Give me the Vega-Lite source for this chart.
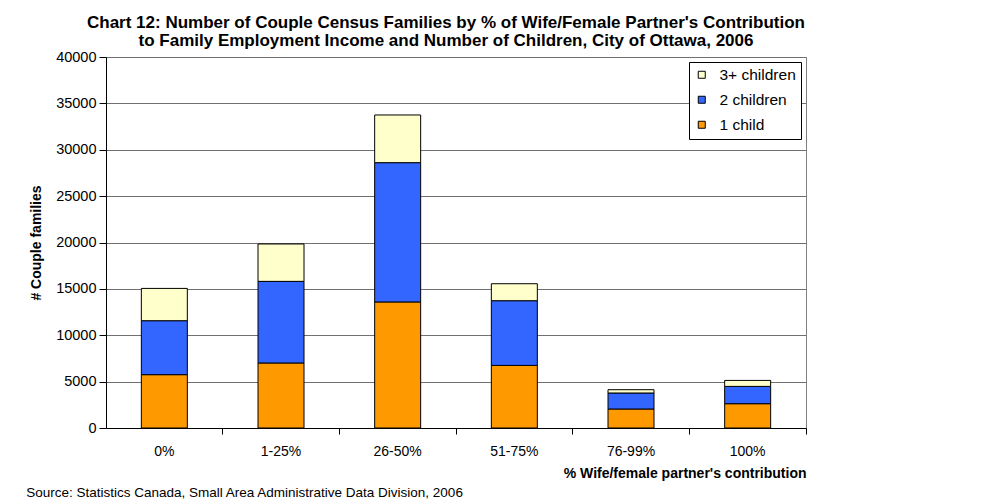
{
  "$schema": "https://vega.github.io/schema/vega-lite/v6.json",
  "autosize": "pad",
  "padding": {"left": 26, "top": 13, "right": 185, "bottom": 3},
  "background": "white",
  "bounds": "flush",
  "title": {
    "text": "Source: Statistics Canada, Small Area Administrative Data Division, 2006",
    "orient": "bottom",
    "anchor": "start",
    "frame": "bounds",
    "font": "Liberation Sans",
    "fontSize": 13.5,
    "fontWeight": "normal",
    "color": "#000000",
    "offset": 5,
    "dx": -3
  },
  "vconcat": [
    {
      "width": 700,
      "height": 371,
      "title": {
        "text": [
          "Chart  12: Number of Couple Census Families by % of Wife/Female Partner's Contribution",
          "to Family Employment Income and Number of Children, City of Ottawa, 2006"
        ],
        "anchor": "middle",
        "frame": "group",
        "dx": -10,
        "font": "Liberation Sans",
        "fontSize": 17,
        "fontWeight": "bold",
        "color": "#000000",
        "lineHeight": 18.5,
        "offset": -1
      },
      "data": {
        "values": [
          {"contribution": "0%", "children": "1 child", "families": 5750},
          {"contribution": "0%", "children": "2 children", "families": 5820},
          {"contribution": "0%", "children": "3+ children", "families": 3480},
          {"contribution": "1-25%", "children": "1 child", "families": 7010},
          {"contribution": "1-25%", "children": "2 children", "families": 8800},
          {"contribution": "1-25%", "children": "3+ children", "families": 4030},
          {"contribution": "26-50%", "children": "1 child", "families": 13590},
          {"contribution": "26-50%", "children": "2 children", "families": 15020},
          {"contribution": "26-50%", "children": "3+ children", "families": 5140},
          {"contribution": "51-75%", "children": "1 child", "families": 6750},
          {"contribution": "51-75%", "children": "2 children", "families": 6975},
          {"contribution": "51-75%", "children": "3+ children", "families": 1830},
          {"contribution": "76-99%", "children": "1 child", "families": 2050},
          {"contribution": "76-99%", "children": "2 children", "families": 1725},
          {"contribution": "76-99%", "children": "3+ children", "families": 355},
          {"contribution": "100%", "children": "1 child", "families": 2620},
          {"contribution": "100%", "children": "2 children", "families": 1865},
          {"contribution": "100%", "children": "3+ children", "families": 645}
        ]
      },
      "mark": {"type": "bar", "stroke": "#000000", "strokeWidth": 1, "width": 46},
      "encoding": {
        "x": {
          "field": "contribution",
          "type": "nominal",
          "sort": ["0%", "1-25%", "26-50%", "51-75%", "76-99%", "100%"],
          "scale": {"paddingInner": 0, "paddingOuter": 0},
          "axis": {
            "title": "% Wife/female partner's contribution",
            "titleAnchor": "end",
            "titleFont": "Liberation Sans",
            "titleFontSize": 14,
            "titleFontWeight": "bold",
            "titleColor": "#000000",
            "titlePadding": 8,
            "labelAngle": 0,
            "labelFont": "Liberation Sans",
            "labelFontSize": 14,
            "labelColor": "#000000",
            "labelPadding": 10,
            "bandPosition": 1,
            "tickSize": 6,
            "tickColor": "#000000",
            "domainColor": "#000000",
            "grid": false
          }
        },
        "y": {
          "field": "families",
          "type": "quantitative",
          "aggregate": "sum",
          "stack": "zero",
          "scale": {"domain": [0, 40000], "nice": false},
          "axis": {
            "title": "# Couple families",
            "titleFont": "Liberation Sans",
            "titleFontSize": 14,
            "titleFontWeight": "bold",
            "titleColor": "#000000",
            "titlePadding": 12,
            "values": [0, 5000, 10000, 15000, 20000, 25000, 30000, 35000, 40000],
            "format": "d",
            "labelFont": "Liberation Sans",
            "labelFontSize": 14.5,
            "labelColor": "#000000",
            "labelPadding": 3,
            "tickSize": 7,
            "tickColor": "#000000",
            "domainColor": "#000000",
            "grid": true,
            "gridColor": "#707070",
            "gridWidth": 1
          }
        },
        "color": {
          "field": "children",
          "type": "nominal",
          "scale": {
            "domain": ["3+ children", "2 children", "1 child"],
            "range": ["#FFFFCC", "#3366FF", "#FF9900"]
          },
          "legend": {
            "title": null,
            "orient": "top-right",
            "offset": 5,
            "padding": 5,
            "fillColor": "#FFFFFF",
            "strokeColor": "#000000",
            "cornerRadius": 0,
            "symbolType": "square",
            "symbolSize": 49,
            "symbolStrokeColor": "#000000",
            "symbolStrokeWidth": 1,
            "labelFont": "Liberation Sans",
            "labelFontSize": 15.5,
            "labelColor": "#000000",
            "labelOffset": 10,
            "rowPadding": 8
          }
        },
        "order": {"field": "children", "sort": "ascending"}
      }
    }
  ],
  "config": {
    "view": {"stroke": "#808080", "strokeWidth": 1},
    "axis": {"domainWidth": 1, "tickWidth": 1}
  }
}
